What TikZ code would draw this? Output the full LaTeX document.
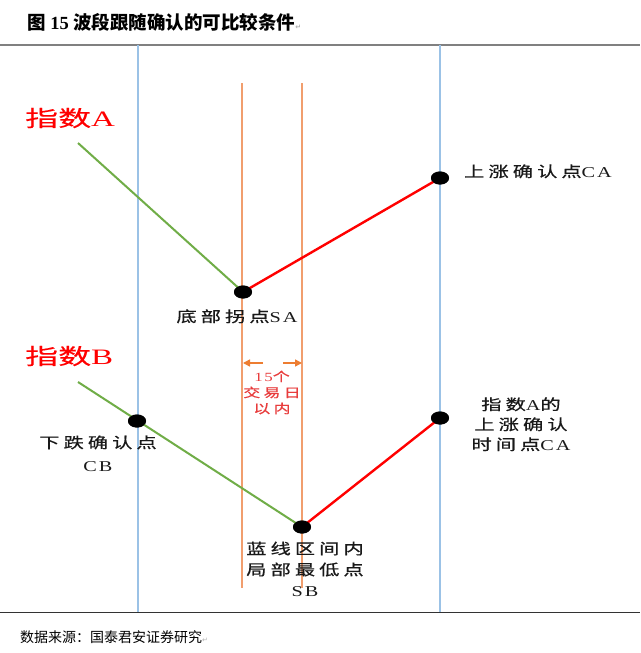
\documentclass[tikz,border=0pt]{standalone}
\usepackage{graphicx}
\usepackage{fontspec}
\setmainfont{Liberation Serif}
\newfontfamily\zh{Noto Sans CJK SC}
\newfontfamily\zhs[LetterSpace=20,FakeBold=0.5]{Noto Sans CJK SC}
\newfontfamily\zhi[FakeBold=0.3]{Noto Sans CJK SC}
\newfontfamily\las[LetterSpace=10]{Liberation Serif}
\newfontfamily\sym{DejaVu Sans}
\usetikzlibrary{shapes.geometric,arrows.meta}
\newcommand\stk[1]{\scalebox{1.35}[1]{\begin{tabular}{@{}c@{}}#1\end{tabular}}}
\newcommand\pmark{{\sym\fontsize{7}{8}\selectfont\color{gray!60}↵}}
\definecolor{lblue}{RGB}{155,194,230}
\definecolor{lorange}{RGB}{241,158,110}
\definecolor{aorange}{RGB}{237,125,49}
\definecolor{lgreen}{RGB}{112,173,71}
\definecolor{dred}{RGB}{255,0,0}
\definecolor{pred}{RGB}{232,60,60}
\tikzset{
  dot/.style={ellipse,fill=black,draw=none,minimum width=18pt,minimum height=13pt,inner sep=0pt},
  vblue/.style={draw=lblue,line width=1.5pt},
  vorange/.style={draw=lorange,line width=1.3pt},
  gline/.style={draw=lgreen,line width=2pt},
  rline/.style={draw=dred,line width=2.4pt},
  oarrow/.style={draw=aorange,line width=1.5pt,-{Triangle[length=7pt,width=7pt]}},
  lbl/.style={inner sep=0pt,text=black!90,font=\fontsize{15}{20}\selectfont},
  idx/.style={inner sep=0pt,text=dred,font=\fontsize{22}{24}\selectfont},
}
\begin{document}
\begin{tikzpicture}[x=1pt,y=-1pt]
\useasboundingbox (0,0) rectangle (640,653);
\fill[white] (0,0) rectangle (640,653);
% title and frame lines
\node[anchor=west,inner sep=0pt,font=\fontsize{18.5}{20}\selectfont\bfseries] (title) at (27,22) {{\zh 图} 15 {\zh 波段跟随确认的可比较条件}\pmark};
\draw[draw=gray,line width=2pt] (0,45) -- (640,45);
\draw[draw=black!80,line width=1pt] (0,612) -- (640,612);
\node[anchor=west,inner sep=0pt,font=\fontsize{14}{16}\selectfont] (source) at (20,637) {{\zh 数据来源：国泰君安证券研究}\pmark};
% vertical guide lines
\draw[vblue] (138,45) -- (138,612);
\draw[vblue] (440,45) -- (440,612);
\draw[vorange] (242,83) -- (242,588);
\draw[vorange] (302,83) -- (302,588);
% index A
\node[idx,anchor=west] (idxA) at (25,118) {\scalebox{1.5}[1]{{\zhi 指数}A}};
\coordinate (a0) at (78,143);
\node[dot] (SA) at (243,292) {};
\node[dot] (CA) at (440,178) {};
\draw[gline] (a0) -- (SA.center);
\draw[rline] (SA.center) -- (CA.center);
\node[dot] at (243,292) {};
\node[dot] at (440,178) {};
\node[lbl,anchor=west] (lCA) at (464,173) {\stk{{\zhs 上涨确认点}{\las CA}}};
\node[lbl] (lSA) at (237,318) {\stk{{\zhs 底部拐点}{\las SA}}};
% index B
\node[idx,anchor=west] (idxB) at (25,356) {\scalebox{1.5}[1]{{\zhi 指数}B}};
\coordinate (b0) at (78,382);
\node[dot] (CB) at (137,421) {};
\node[dot] (SB) at (302,527) {};
\node[dot] (CA2) at (440,418) {};
\draw[gline] (b0) -- (SB.center);
\draw[rline] (SB.center) -- (CA2.center);
\node[dot] at (137,421) {};
\node[dot] at (302,527) {};
\node[dot] at (440,418) {};
\node[lbl,font=\fontsize{15}{23}\selectfont] (lCB) at (98,455) {\stk{{\zhs 下跌确认点}\\{\las CB}}};
\node[lbl] (lCA2) at (521,426) {\stk{{\zhs 指数}{\las A}{\zhs 的}\\{\zhs 上涨确认}\\{\zhs 时间点}{\las CA}}};
\node[lbl,font=\fontsize{15}{21}\selectfont] (lSB) at (305,571) {\stk{{\zhs 蓝线区间内}\\{\zhs 局部最低点}\\{\las SB}}};
% 15 trading days
\coordinate (lt) at (243,363);
\coordinate (ls) at (263,363);
\coordinate (rs) at (283,363);
\coordinate (rt) at (302,363);
\draw[oarrow] (ls) -- (lt);
\draw[oarrow] (rs) -- (rt);
\node[inner sep=0pt,text=pred,font=\fontsize{12.5}{16}\selectfont] (days) at (272,394) {\stk{{\las 15}{\zhs 个}\\{\zhs 交易日}\\{\zhs 以内}}};
\end{tikzpicture}
\end{document}
